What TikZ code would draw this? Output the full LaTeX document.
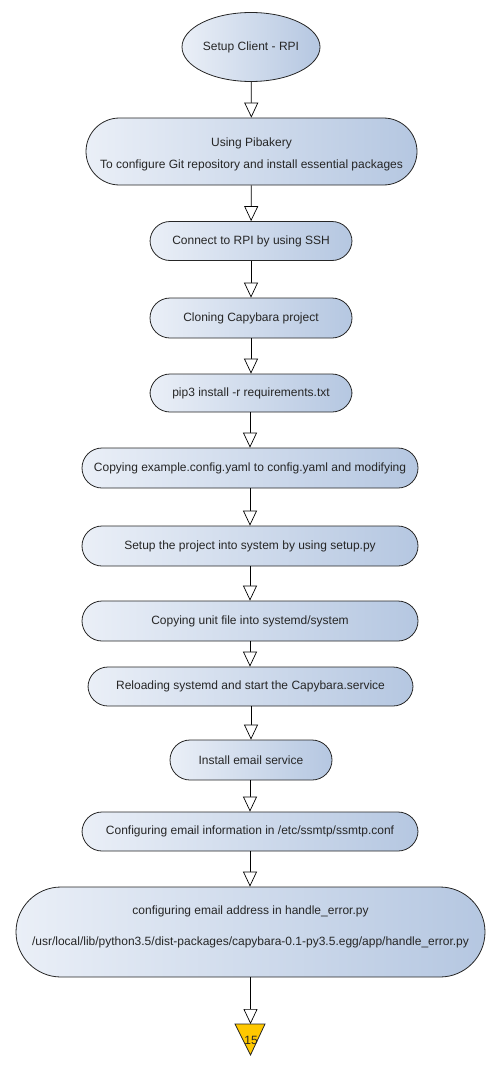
\documentclass[tikz,border=0pt]{standalone}
\usepackage{fontspec}
\setmainfont{Liberation Sans}
\usetikzlibrary{arrows.meta,shapes.geometric}
\definecolor{gradL}{RGB}{234,239,247}
\definecolor{gradR}{RGB}{181,199,225}
\definecolor{gold}{RGB}{255,200,0}
\begin{document}
\begin{tikzpicture}[x=1pt,y=-1pt,
  font=\fontsize{12}{14}\selectfont,
  base/.style={draw=black!85, line width=0.8pt, left color=gradL, right color=gradR, inner sep=0pt, text=black!85},
  pill/.style={base, rectangle, rounded corners=#1},
  pill/.default=20pt,
  oval/.style={base, ellipse},
  txt/.style={inner sep=0pt, text=black!85},
  flow/.style={draw=black, line width=0.7pt, -{Triangle[length=15pt,width=14pt,fill=white,line width=0.7pt]}}
]
\useasboundingbox (0,0) rectangle (501,1070);

\node[oval, minimum width=138pt, minimum height=69pt] (n1) at (251,47) {Setup Client - RPI};
\node[pill=33.5pt, minimum width=331pt, minimum height=67pt] (n2) at (251.5,151.5) {};
\node[txt] (n2a) at (251.5,143) {Using Pibakery};
\node[txt] (n2b) at (251.5,165.5) {To configure Git repository and install essential packages};
\node[pill, minimum width=202pt, minimum height=39pt] (n3) at (251,241) {Connect to RPI by using SSH};
\node[pill, minimum width=202pt, minimum height=40pt] (n4) at (251,318) {Cloning Capybara project};
\node[pill, minimum width=202pt, minimum height=38pt] (n5) at (251,393) {pip3 install -r requirements.txt};
\node[pill, minimum width=336pt, minimum height=40pt] (n6) at (250,468) {Copying example.config.yaml to config.yaml and modifying};
\node[pill, minimum width=336pt, minimum height=40pt] (n7) at (250,546) {Setup the project into system by using setup.py};
\node[pill, minimum width=336pt, minimum height=40pt] (n8) at (250,621) {Copying unit file into systemd/system};
\node[pill, minimum width=325pt, minimum height=39pt] (n9) at (250.5,686.5) {Reloading systemd and start the Capybara.service};
\node[pill, minimum width=162pt, minimum height=40pt] (n10) at (251,760) {Install email service};
\node[pill, minimum width=336pt, minimum height=39pt] (n11) at (250,831.5) {Configuring email information in /etc/ssmtp/ssmtp.conf};
\node[pill=45pt, minimum width=469pt, minimum height=90pt] (n12) at (250.5,932) {};
\node[txt] (n12a) at (250.5,911) {configuring email address in handle\_error.py};
\node[txt] (n12b) at (250.5,942) {/usr/local/lib/python3.5/dist-packages/capybara-0.1-py3.5.egg/app/handle\_error.py};

\coordinate (t1) at (235,1024);
\coordinate (t2) at (265,1024);
\coordinate (t3) at (250.5,1055);
\coordinate (ttop) at (250.5,1024);
\draw[fill=gold, draw=black!85, line width=0.8pt] (t1) -- (t2) -- (t3) -- cycle;
\node[txt] (n13) at (251,1040) {15};

\draw[flow] (n1) -- (n2);
\draw[flow] (n2) -- (n3);
\draw[flow] (n3) -- (n4);
\draw[flow] (n4) -- (n5);
\draw[flow] (n5.south -| n6) -- (n6);
\draw[flow] (n6) -- (n7);
\draw[flow] (n7) -- (n8);
\draw[flow] (n8) -- (n9.north -| n8);
\draw[flow] (n9.south -| n10) -- (n10);
\draw[flow] (n10.south -| n11) -- (n11);
\draw[flow] (n11) -- (n12.north -| n11);
\draw[flow] (n12) -- (ttop);
\end{tikzpicture}
\end{document}
